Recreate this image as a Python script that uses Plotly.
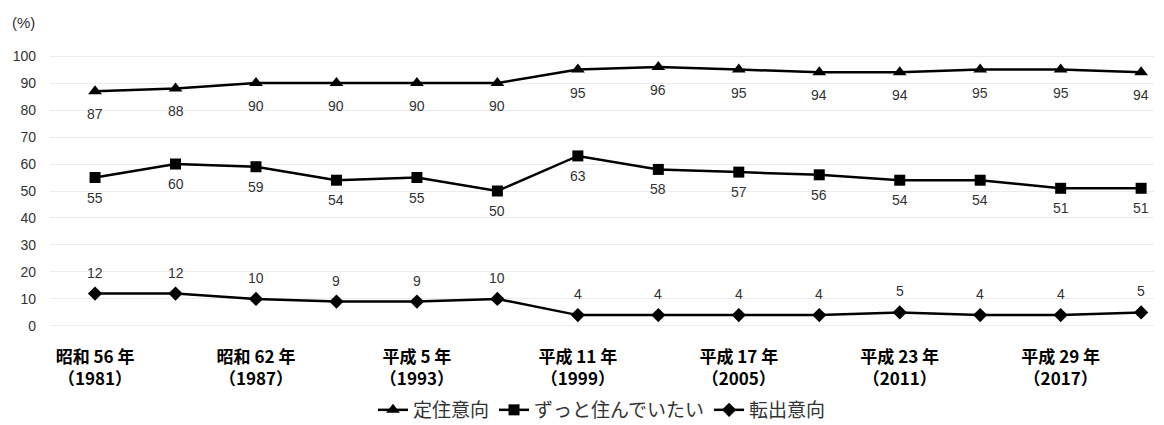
import plotly.graph_objects as go

categories = ["1981", "1984", "1987", "1990", "1993", "1996", "1999",
              "2002", "2005", "2008", "2011", "2014", "2017", "2020"]
teiju = [87, 88, 90, 90, 90, 90, 95, 96, 95, 94, 94, 95, 95, 94]
zutto = [55, 60, 59, 54, 55, 50, 63, 58, 57, 56, 54, 54, 51, 51]
tenshutsu = [12, 12, 10, 9, 9, 10, 4, 4, 4, 4, 5, 4, 4, 5]
tick_vals = ["1981", "1987", "1993", "1999", "2005", "2011", "2017"]
tick_text = ["昭和 56 年<br>（1981）", "昭和 62 年<br>（1987）", "平成 5 年<br>（1993）",
             "平成 11 年<br>（1999）", "平成 17 年<br>（2005）", "平成 23 年<br>（2011）",
             "平成 29 年<br>（2017）"]

x = list(range(len(categories)))
tv = [categories.index(c) for c in tick_vals]

label_font = dict(family="Liberation Sans, Arial", size=14, color="#333333")

fig = go.Figure()
series = [
    ("定住意向", teiju, "triangle-up", 12, -23),
    ("ずっと住んでいたい", zutto, "square", 11, -20),
    ("転出意向", tenshutsu, "diamond", 11, 21),
]
annotations = []
for name, vals, sym, size, shift in series:
    fig.add_trace(go.Scatter(
        x=x, y=vals, name=name, mode="lines+markers",
        line=dict(color="black", width=2.5),
        marker=dict(symbol=sym, size=size, color="black")))
    for xi, v in zip(x, vals):
        annotations.append(dict(x=xi, y=v, xref="x", yref="y", text=str(v),
                                showarrow=False, yshift=shift, font=label_font))

annotations.append(dict(text="(%)", xref="paper", yref="paper", x=-0.036, y=1.09,
                        xanchor="left", yanchor="middle", showarrow=False,
                        font=dict(family="Liberation Sans, Arial", size=15, color="#333333")))

fig.update_layout(
    width=1156, height=417,
    margin=dict(l=42, r=10, t=40, b=91),
    paper_bgcolor="white", plot_bgcolor="white",
    showlegend=True,
    legend=dict(orientation="h", x=0.5, xanchor="center", yref="container",
                y=0.036, yanchor="middle",
                font=dict(family="Noto Sans CJK JP", size=19, color="#333333")),
    xaxis=dict(range=[-0.56, 13.16], tickmode="array", tickvals=tv,
               ticktext=["<b>" + t.replace("<br>", "</b><br><b>") + "</b>" for t in tick_text],
               tickfont=dict(family="Noto Sans CJK JP", size=17, color="black"),
               showgrid=False, zeroline=False, showline=False, ticks="",
               ticklabelstandoff=11, automargin=False),
    yaxis=dict(range=[-3, 103], tickmode="array", tickvals=list(range(0, 101, 10)),
               tickfont=dict(family="Liberation Sans, Arial", size=14, color="#333333"),
               showgrid=True, gridcolor="#ececec", gridwidth=1, zeroline=False,
               showline=False, ticks="", ticklabelstandoff=13, automargin=False),
    annotations=annotations,
)

fig.write_html("out.html")
